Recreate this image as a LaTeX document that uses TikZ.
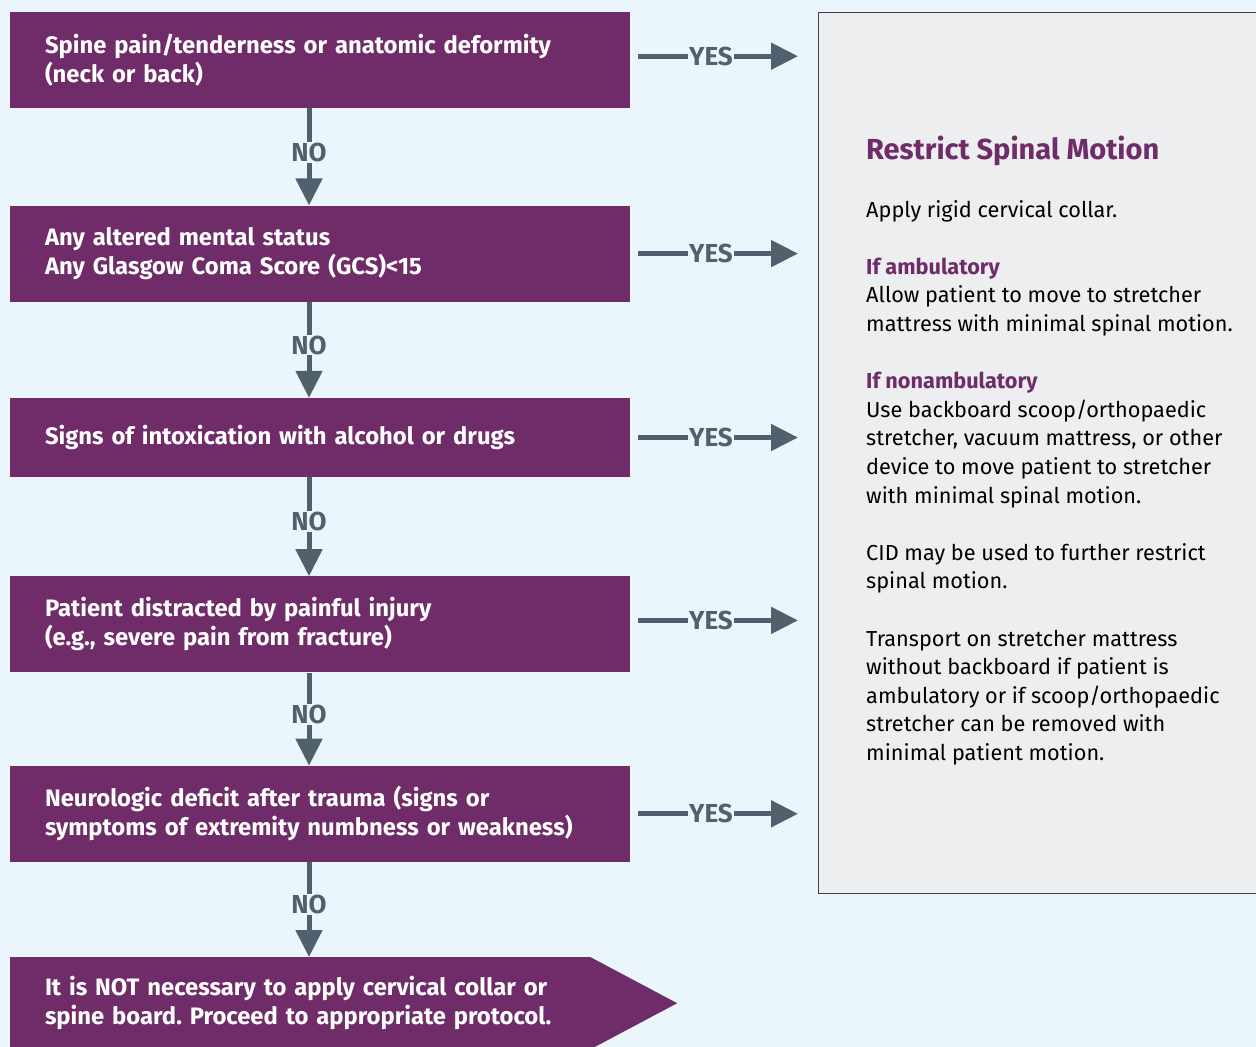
\documentclass[tikz,border=0pt]{standalone}
\usepackage{fontspec}
\setmainfont{Fira Sans}
\frenchspacing
\usepackage{tikz}
\usetikzlibrary{positioning, arrows.meta}
\definecolor{bgblue}{RGB}{234,246,252}
\definecolor{panelgray}{RGB}{236,238,240}
\definecolor{boxpurple}{RGB}{111,44,104}
\definecolor{arrowgray}{RGB}{80,96,108}
\tikzset{
	decision/.append style={
		fill=boxpurple,
		text=white,
		align = left,
		text width=550pt,
		inner xsep=35pt,
		inner ysep=0pt,
		minimum height=96pt,
		font={\fontsize{23.8}{29}\selectfont\bfseries}
	},
	answer/.append style={
		fill=bgblue,
		text=arrowgray,
		inner sep=1pt,
		font={\fontsize{26}{26}\selectfont\bfseries}
	},
	flow/.append style={
		draw=arrowgray,
		line width=5pt,
		-{Triangle[length=27pt, width=26pt]}
	},
	panel/.append style={
		draw=black!75,
		line width=1.2pt,
		fill=panelgray,
		anchor=north west,
		minimum width=442pt,
		minimum height=881pt
	},
	paneltext/.append style={
		inner sep=0pt,
		align = left,
		anchor=north west,
		font={\fontsize{21.7}{28.6}\selectfont}
	}
}

\begin{document}
\begin{tikzpicture}[x=1pt, y=-1pt]
		\fill[bgblue] (0,0) rectangle (1256,1047);
		\useasboundingbox (0,0) rectangle (1256,1047);
		
		\node(spine)[decision, anchor=north] at (320,12) {Spine pain/tenderness or anatomic deformity\\(neck or back)};
		\node(mental)[decision, below=97pt of spine]{Any altered mental status\\Any Glasgow Coma Score (GCS)<15};
		\node(intox)[decision, below=96pt of mental, minimum height=79pt]{Signs of intoxication with alcohol or drugs};
		\node(distract)[decision, below=99pt of intox]{Patient distracted by painful injury\\(e.g., severe pain from fracture)};
		\node(neuro)[decision, below=93pt of distract]{Neurologic deficit after trauma (signs or\\symptoms of extremity numbness or weakness)};
		\node(notnec)[decision, below=95pt of neuro.south west, anchor=north west, text width=510pt, minimum height=92pt]{It is NOT necessary to apply cervical collar or\\spine board. Proceed to appropriate protocol.};
		\fill[boxpurple] (notnec.north east) -- ([xshift=87pt]notnec.east) -- (notnec.south east) -- cycle;
		
		\node(restrict)[panel] at (818,12) {};
		\node(title)[anchor=west, inner sep=0pt, text=boxpurple, font={\fontsize{29}{34}\selectfont\bfseries}] at (866,151) {Restrict Spinal Motion};
		\node(steps)[paneltext] at (866,200) {Apply rigid cervical collar.\\[28.6pt]
			{\bfseries\color{boxpurple}If ambulatory}\\
			Allow patient to move to stretcher\\
			mattress with minimal spinal motion.\\[28.6pt]
			{\bfseries\color{boxpurple}If nonambulatory}\\
			Use backboard scoop/orthopaedic\\
			stretcher, vacuum mattress, or other\\
			device to move patient to stretcher\\
			with minimal spinal motion.\\[28.6pt]
			CID may be used to further restrict\\
			spinal motion.\\[28.6pt]
			Transport on stretcher mattress\\
			without backboard if patient is\\
			ambulatory or if scoop/orthopaedic\\
			stretcher can be removed with\\
			minimal patient motion.};
		
		\foreach \a/\b in {spine/mental, mental/intox, intox/distract, distract/neuro, neuro/notnec}{
			\draw[flow] ([xshift=-11pt]\a.south) -- node[answer, pos=0.45] {NO} ([xshift=-11pt]\a.south |- \b.north);
		};
		\foreach \a/\dy in {spine/4, mental/0, intox/0, distract/4, neuro/0}{
			\draw[flow, shorten <=8pt, shorten >=20pt] ([yshift=\dy pt]\a.east) -- node[answer, pos=0.43] {YES} ([yshift=\dy pt]\a.east -| restrict.west);
		};
\end{tikzpicture}
\end{document}
